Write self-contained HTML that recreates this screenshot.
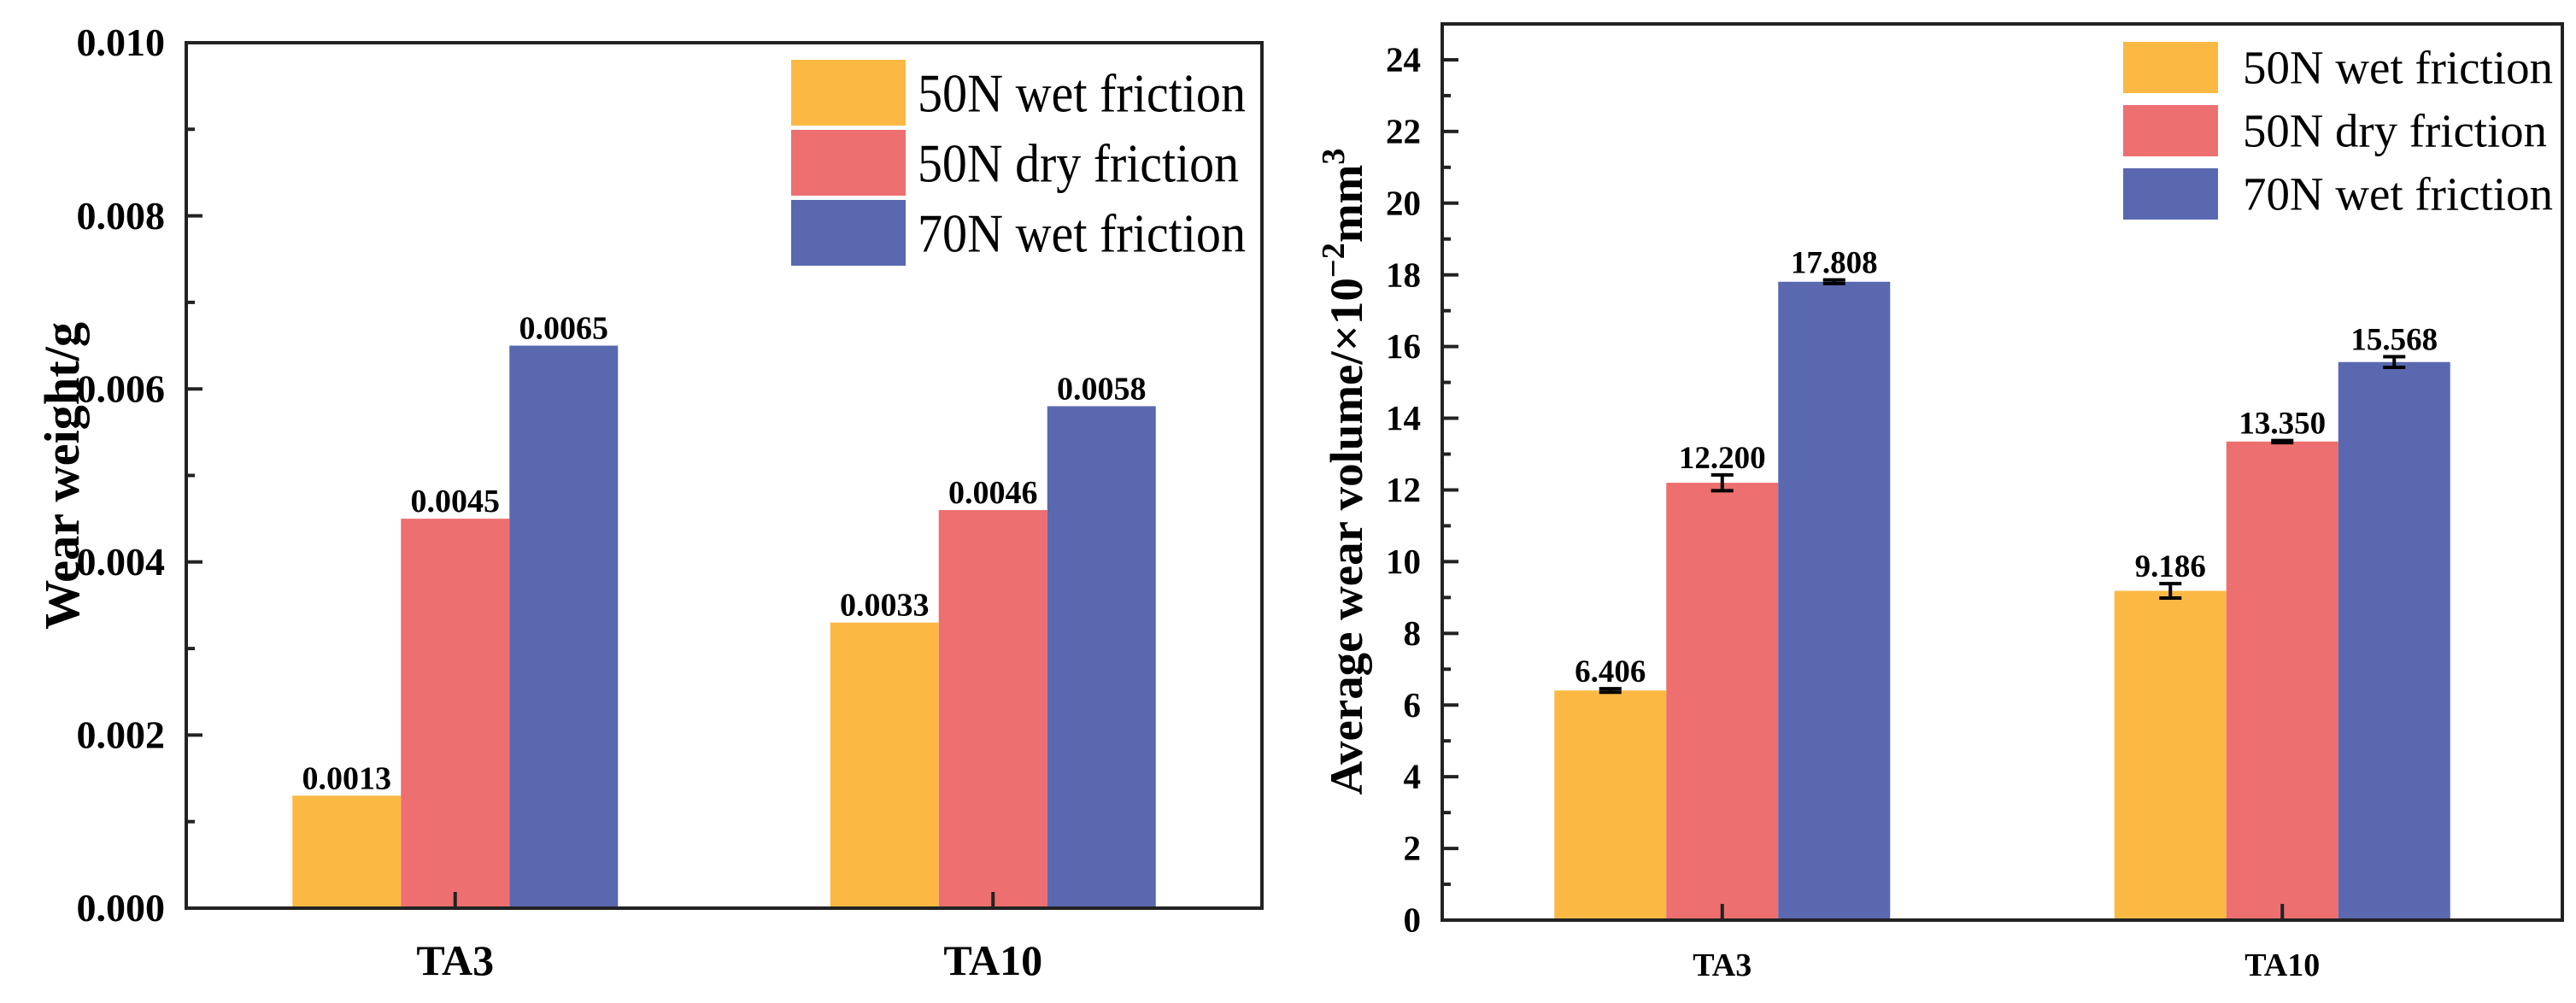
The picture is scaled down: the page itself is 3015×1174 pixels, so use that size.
<!DOCTYPE html>
<html><head><meta charset="utf-8">
<style>
html,body{margin:0;padding:0;background:#fff;}
svg{display:block;}
text{font-family:"Liberation Serif","Times New Roman",Times,serif;}
</style></head>
<body>
<svg id="chart" width="3015" height="1174" viewBox="0 0 3015 1174" xmlns="http://www.w3.org/2000/svg" font-family="Liberation Serif, Times New Roman, Times, serif">
  <g id="left"></g>
  <g id="right"></g>
</svg>
<script>
const categories = ["TA3", "TA10"];
const seriesNames = ["50N wet friction", "50N dry friction", "70N wet friction"];
const colors = ["#FBB944", "#ED6F6F", "#5A68B0"];
const weightWet50 = [0.0013, 0.0033];
const weightDry50 = [0.0045, 0.0046];
const weightWet70 = [0.0065, 0.0058];
const weightLabels = [["0.0013","0.0033"],["0.0045","0.0046"],["0.0065","0.0058"]];
const weightTicks = [0, 0.002, 0.004, 0.006, 0.008, 0.010];
const weightTickLabels = ["0.000","0.002","0.004","0.006","0.008","0.010"];
const volWet50 = [6.406, 9.186];
const volDry50 = [12.200, 13.350];
const volWet70 = [17.808, 15.568];
const volErrWet50 = [0.05, 0.2];
const volErrDry50 = [0.22, 0.03];
const volErrWet70 = [0.05, 0.15];
const volLabels = [["6.406","9.186"],["12.200","13.350"],["17.808","15.568"]];
const volTicks = [0,2,4,6,8,10,12,14,16,18,20,22,24];

const NS = "http://www.w3.org/2000/svg";
function mk(parent, tag, attrs, txt) {
  const e = document.createElementNS(NS, tag);
  for (const k in attrs) e.setAttribute(k, attrs[k]);
  if (txt !== undefined) e.textContent = txt;
  parent.appendChild(e);
  return e;
}

function drawChart(g, cfg) {
  const {x0, x1, y0, y1, ymax, barW, values, errs, labels, ticks, tickLabels, minorStep, tickFont, labelFont, catFont, catY, legend, title} = cfg;
  const sy = v => y1 - (v / ymax) * (y1 - y0);
  const groupCenter = i => x0 + (x1 - x0) * (0.25 + 0.5 * i);
  values.forEach((ser, s) => {
    ser.forEach((v, i) => {
      const bx = groupCenter(i) + (s - 1.5) * barW;
      const r = mk(g, "rect", {x: bx, y: sy(v), width: barW, height: y1 - sy(v), fill: colors[s]});
      
      
      let top = sy(v);
      const cx = bx + barW / 2;
      if (errs) {
        const e = errs[s][i];
        const ga = mk(g, "g", {stroke: "#000", "stroke-width": 4});
        
        
        mk(ga, "line", {x1: cx, x2: cx, y1: sy(v + e), y2: sy(v - e)});
        mk(ga, "line", {x1: cx - 13, x2: cx + 13, y1: sy(v + e), y2: sy(v + e)});
        mk(ga, "line", {x1: cx - 13, x2: cx + 13, y1: sy(v - e), y2: sy(v - e)});
        top = Math.min(top, sy(v + e));
      }
      const t = mk(g, "text", {x: cx, y: top - 8, "text-anchor": "middle", "font-size": labelFont, "font-weight": "bold"}, labels[s][i]);
      
      
    });
  });
  const fr = mk(g, "rect", {x: x0, y: y0, width: x1 - x0, height: y1 - y0, fill: "none", stroke: "#222", "stroke-width": 4});
  
  
  const tg = mk(g, "g", {stroke: "#222", "stroke-width": 4});
  
  
  for (let v = 0; v <= ymax + 1e-9; v += minorStep) {
    const isMajor = ticks.some(t => Math.abs(t - v) < minorStep / 10);
    mk(tg, "line", {x1: x0, x2: x0 + (isMajor ? 19 : 10), y1: sy(v), y2: sy(v)});
  }
  categories.forEach((c, i) => {
    mk(tg, "line", {x1: groupCenter(i), x2: groupCenter(i), y1: y1, y2: y1 - 19});
  });
  ticks.forEach((v, i) => {
    const t = mk(g, "text", {x: x0 - 25, y: sy(v) + tickFont * 0.33, "text-anchor": "end", "font-size": tickFont, "font-weight": "bold"}, tickLabels[i]);
    
    
  });
  categories.forEach((c, i) => {
    const t = mk(g, "text", {x: groupCenter(i), y: catY, "text-anchor": "middle", "font-size": catFont, "font-weight": "bold"}, c);
    
    
  });
  const lg = mk(g, "g", {});
  
  
  seriesNames.forEach((n, s) => {
    const r = mk(lg, "rect", {x: legend.x, y: legend.y + s * legend.step, width: legend.w, height: legend.h, fill: colors[s]});
    
    
    const t = mk(lg, "text", {x: legend.tx, y: legend.y + s * legend.step + legend.h / 2 + legend.font * 0.34, "font-size": legend.font, textLength: legend.lens[s], lengthAdjust: "spacingAndGlyphs"}, n);
    
    
  });
  const tt = mk(g, "text", {transform: `translate(${title.x},${title.y}) rotate(-90)`, "text-anchor": "middle", "font-size": title.font, "font-weight": "bold", textLength: title.len, lengthAdjust: "spacingAndGlyphs"});
  
  
  title.parts.forEach(p => {
    mk(tt, "tspan", p.sup ? {"baseline-shift": "super", "font-size": title.font * 0.7} : {}, p.t);
  });
}

drawChart(document.getElementById("left"), {
  x0: 218, x1: 1477, y0: 50, y1: 1063, ymax: 0.010, barW: 127,
  values: [weightWet50, weightDry50, weightWet70], errs: null, labels: weightLabels,
  ticks: weightTicks, tickLabels: weightTickLabels, minorStep: 0.001,
  tickFont: 46, labelFont: 38, catFont: 50, catY: 1141,
  legend: {x: 926, y: 70, w: 134, h: 77, step: 82, tx: 1074, font: 64, lens: [384, 376, 384]},
  title: {x: 92, y: 557, font: 58, len: 360, parts: [{t: "Wear weight/g"}]}
});
drawChart(document.getElementById("right"), {
  x0: 1688, x1: 2999, y0: 28, y1: 1077, ymax: 25, barW: 131,
  values: [volWet50, volDry50, volWet70], errs: [volErrWet50, volErrDry50, volErrWet70], labels: volLabels,
  ticks: volTicks, tickLabels: volTicks.map(String), minorStep: 1,
  tickFont: 41, labelFont: 37, catFont: 38, catY: 1142,
  legend: {x: 2485, y: 49, w: 111, h: 60, step: 74, tx: 2625, font: 55, lens: [363, 356, 363]},
  title: {x: 1594, y: 552, font: 54, len: 757, parts: [{t: "Average wear volume/×10"}, {t: "−2", sup: true}, {t: "mm"}, {t: "3", sup: true}]}
});
</script>
</body></html>
